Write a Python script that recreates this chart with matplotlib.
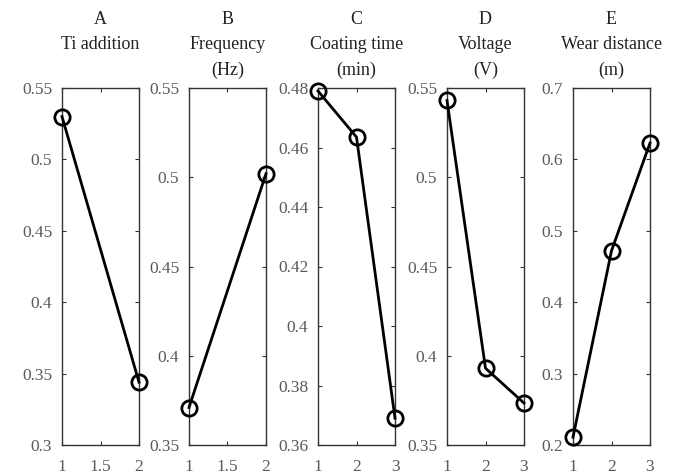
import matplotlib
matplotlib.use("Agg")
import matplotlib.pyplot as plt
import numpy as np

plt.rcParams['font.family'] = ['Liberation Serif', 'DejaVu Serif']

titles = ["A\nTi addition", "B\nFrequency\n(Hz)", "C\nCoating time\n(min)",
          "D\nVoltage\n(V)", "E\nWear distance\n(m)"]
levels = [[1, 2], [1, 2], [1, 2, 3], [1, 2, 3], [1, 2, 3]]
values = [
    [0.530, 0.344],
    [0.371, 0.502],
    [0.479, 0.4635, 0.369],
    [0.543, 0.393, 0.3735],
    [0.211, 0.472, 0.623],
]
ylims = [(0.3, 0.55), (0.35, 0.55), (0.36, 0.48), (0.35, 0.55), (0.2, 0.7)]
yticks = [
    [0.3, 0.35, 0.4, 0.45, 0.5, 0.55],
    [0.35, 0.4, 0.45, 0.5, 0.55],
    [0.36, 0.38, 0.4, 0.42, 0.44, 0.46, 0.48],
    [0.35, 0.4, 0.45, 0.5, 0.55],
    [0.2, 0.3, 0.4, 0.5, 0.6, 0.7],
]
ytlabels = [
    ["0.3", "0.35", "0.4", "0.45", "0.5", "0.55"],
    ["0.35", "0.4", "0.45", "0.5", "0.55"],
    ["0.36", "0.38", "0.4", "0.42", "0.44", "0.46", "0.48"],
    ["0.35", "0.4", "0.45", "0.5", "0.55"],
    ["0.2", "0.3", "0.4", "0.5", "0.6", "0.7"],
]
xticks = [[1, 1.5, 2], [1, 1.5, 2], [1, 2, 3], [1, 2, 3], [1, 2, 3]]
xtlabels = [["1", "1.5", "2"], ["1", "1.5", "2"], ["1", "2", "3"], ["1", "2", "3"], ["1", "2", "3"]]

W, H = 690, 476
fig = plt.figure(figsize=(W / 100, H / 100), dpi=100)
lefts = [62, 189, 318, 447, 573]
width = 77
top, bottom = 88, 445
gray = '#5a5a5a'
for i in range(5):
    ax = fig.add_axes([lefts[i] / W, 1 - bottom / H, width / W, (bottom - top) / H])
    ax.plot(levels[i], values[i], color='black', lw=2, marker='o', ms=11,
            mfc='none', mec='black', mew=2, clip_on=False, zorder=5)
    ax.set_xlim(min(levels[i]), max(levels[i]))
    ax.set_ylim(*ylims[i])
    ax.set_xticks(xticks[i])
    ax.set_xticklabels(xtlabels[i])
    ax.set_yticks(yticks[i])
    ax.set_yticklabels(ytlabels[i])
    ax.tick_params(direction='in', top=True, right=True, length=3, width=0.8,
                   labelsize=12.5, labelcolor=gray, color='#333333', pad=7)
    ax.tick_params(axis='x', pad=10)
    for s in ax.spines.values():
        s.set_color('#333333')
        s.set_linewidth(1.0)
    cx = (lefts[i] + width / 2) / W
    fig.text(cx, 1 - 11 / H, titles[i], ha='center', va='top', fontsize=13,
             color='#222222', linespacing=1.65)

fig.savefig("out.png", dpi=100)
